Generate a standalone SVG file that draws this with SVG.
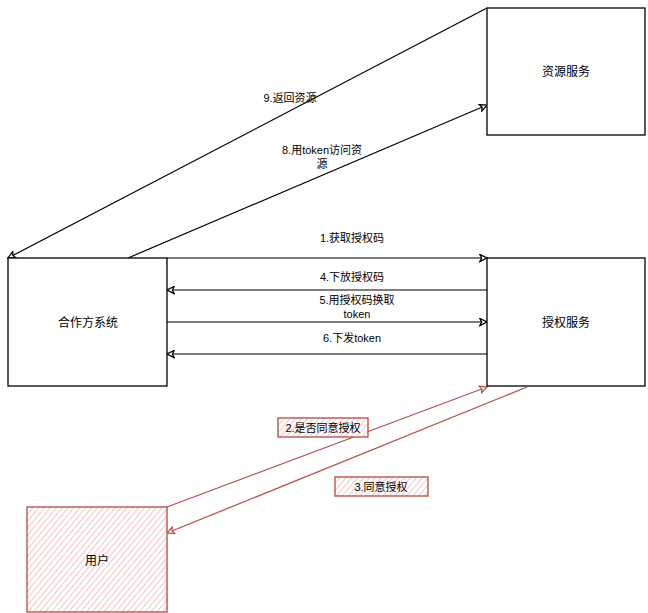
<svg xmlns="http://www.w3.org/2000/svg" width="648" height="613" viewBox="0 0 648 613">
<style>
.box{fill:#ffffff;stroke:#000000;stroke-width:1.3}
.rbox{fill:url(#hatch);stroke:#b85450;stroke-width:1.4}
.t{font-family:"Liberation Sans","Noto Sans CJK SC",sans-serif;font-size:12px;fill:#000;text-anchor:middle}
.e{font-family:"Liberation Sans","Noto Sans CJK SC",sans-serif;font-size:11px;fill:#000;text-anchor:middle}
.c{fill:none;stroke:#000;stroke-width:1.2}
.cr{fill:none;stroke:#b85450;stroke-width:1.3}
</style>
<defs>
<pattern id="hatch" patternUnits="userSpaceOnUse" width="4.5" height="4.5" patternTransform="rotate(40)">
<rect width="4.5" height="4.5" fill="#ffffff"/>
<line x1="0" y1="0" x2="0" y2="4.5" stroke="#f5c2c0" stroke-width="2"/>
</pattern>
<marker id="ak" viewBox="0 0 10 10" refX="9" refY="5" markerWidth="9" markerHeight="9" orient="auto-start-reverse" markerUnits="userSpaceOnUse">
<path d="M1,1 L9,5 L1,9 L3,5 Z" fill="#ffffff" stroke="#000" stroke-width="1.4"/>
</marker>
<marker id="ar" viewBox="0 0 10 10" refX="9" refY="5" markerWidth="9" markerHeight="9" orient="auto-start-reverse" markerUnits="userSpaceOnUse">
<path d="M1,1 L9,5 L1,9 L3,5 Z" fill="#ffffff" stroke="#b85450" stroke-width="1.4"/>
</marker>
</defs>
<rect width="648" height="613" fill="#ffffff"/>
<g id="connectors">
<line class="c" x1="487" y1="8" x2="8" y2="258" marker-end="url(#ak)"/>
<line class="c" x1="128" y1="258" x2="487" y2="105" marker-end="url(#ak)"/>
<line class="c" x1="167" y1="258" x2="487" y2="258" marker-end="url(#ak)"/>
<line class="c" x1="487" y1="290" x2="167" y2="290" marker-end="url(#ak)"/>
<line class="c" x1="167" y1="322" x2="487" y2="322" marker-end="url(#ak)"/>
<line class="c" x1="487" y1="354" x2="167" y2="354" marker-end="url(#ak)"/>
<line class="cr" x1="167" y1="507" x2="487" y2="387" marker-end="url(#ar)"/>
<line class="cr" x1="527" y1="387" x2="167" y2="533" marker-end="url(#ar)"/>
<text class="e" x="290" y="102">9.返回资源</text>
<text class="e" x="322" y="154">8.用token访问资</text>
<text class="e" x="322" y="168">源</text>
<text class="e" x="352" y="242">1.获取授权码</text>
<text class="e" x="352" y="281">4.下放授权码</text>
<text class="e" x="357" y="304">5.用授权码换取</text>
<text class="e" x="357" y="318">token</text>
<text class="e" x="352" y="342">6.下发token</text>
<g id="label2">
<rect class="rbox" x="278" y="418" width="90" height="19"/>
<text class="e" x="323" y="432">2.是否同意授权</text>
</g>
<g id="label3">
<rect class="rbox" x="335" y="477" width="93" height="19"/>
<text class="e" x="381" y="491">3.同意授权</text>
</g>
</g>
<g id="resource">
<rect class="box" x="487" y="8" width="158" height="127"/>
<text class="t" x="566" y="76">资源服务</text>
</g>
<g id="partner">
<rect class="box" x="8" y="258" width="159" height="128"/>
<text class="t" x="88" y="327">合作方系统</text>
</g>
<g id="auth">
<rect class="box" x="487" y="258" width="158" height="128"/>
<text class="t" x="566" y="327">授权服务</text>
</g>
<g id="user">
<rect class="rbox" x="27" y="507" width="140" height="105"/>
<text class="t" x="97" y="565">用户</text>
</g>
</svg>
